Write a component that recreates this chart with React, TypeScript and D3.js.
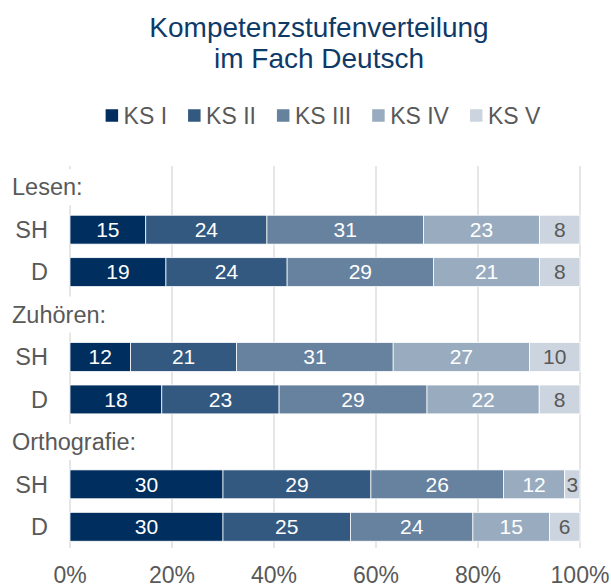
import React, { useMemo } from "react";
import * as d3 from "d3";

const titleLines = ["Kompetenzstufenverteilung", "im Fach Deutsch"];
const levels = ["KS I", "KS II", "KS III", "KS IV", "KS V"];
const colors = ["#002f5f", "#335980", "#66829f", "#99acbf", "#ccd5df"];
const groups = ["Lesen:", "Zuhören:", "Orthografie:"];
const regions = ["SH", "D"];
const lesenSH = [15, 24, 31, 23, 8];
const lesenD = [19, 24, 29, 21, 8];
const zuhoerenSH = [12, 21, 31, 27, 10];
const zuhoerenD = [18, 23, 29, 22, 8];
const orthoSH = [30, 29, 26, 12, 3];
const orthoD = [30, 25, 24, 15, 6];
const xTicks = [0, 0.2, 0.4, 0.6, 0.8, 1];

const groupValues = [
  [lesenSH, lesenD],
  [zuhoerenSH, zuhoerenD],
  [orthoSH, orthoD],
];

const FONT = "'Liberation Sans', Arial, sans-serif";
const GREY = "#595959";

type Row = { key: string; type: "group" | "bar"; label: string; values?: number[] };

export default function App() {
  const W = 611;
  const H = 586;

  const rows: Row[] = [];
  groups.forEach((g, gi) => {
    rows.push({ key: "g" + gi, type: "group", label: g });
    regions.forEach((r, ri) => {
      rows.push({ key: "r" + gi + ri, type: "bar", label: r, values: groupValues[gi][ri] });
    });
  });

  const x = d3.scaleLinear().domain([0, 1]).range([70, 580]);
  const y = d3
    .scaleBand<string>()
    .domain(rows.map((r) => r.key))
    .range([166, 548])
    .paddingInner(0.32)
    .paddingOuter(0.16);

  const measure = useMemo(() => {
    const c = document.createElement("canvas").getContext("2d")!;
    return (t: string, size: number) => {
      c.font = `${size}px ${FONT}`;
      return c.measureText(t).width;
    };
  }, []);

  // legend layout
  const legSize = 23;
  const sq = 12.5;
  const gapSq = 5.5;
  const gapItem = 21;
  const widths = levels.map((l) => measure(l, legSize));
  const total =
    widths.reduce((a, b) => a + b, 0) + levels.length * (sq + gapSq) + (levels.length - 1) * gapItem;
  let lx = 323 - total / 2;
  const legendItems = levels.map((l, i) => {
    const item = { l, i, x: lx };
    lx += sq + gapSq + widths[i] + gapItem;
    return item;
  });
  const legY = 115.5;

  return (
    <svg width={W} height={H} style={{ position: "absolute", left: 0, top: 0, background: "#fff" }}>
      <rect width={W} height={H} fill="#fff" />
      {titleLines.map((t, i) => (
        <text
          key={t}
          x={319}
          y={37 + i * 31}
          textAnchor="middle"
          fontFamily={FONT}
          fontSize={28}
          fill="#0f3a68"
        >
          {t}
        </text>
      ))}
      {legendItems.map((it) => (
        <g key={it.l}>
          <rect x={it.x} y={legY - sq / 2} width={sq} height={sq} fill={colors[it.i]} />
          <text
            x={it.x + sq + gapSq}
            y={legY}
            dy="0.35em"
            fontFamily={FONT}
            fontSize={legSize}
            fill={GREY}
          >
            {it.l}
          </text>
        </g>
      ))}
      {xTicks.map((t) => (
        <line
          key={t}
          x1={x(t)}
          x2={x(t)}
          y1={166}
          y2={548}
          stroke="#d9d9d9"
          strokeWidth={1.3}
        />
      ))}
      {rows.map((r) => {
        const by = y(r.key)!;
        const bh = y.bandwidth();
        const cy = by + bh / 2;
        if (r.type === "group") {
          const tw = measure(r.label, 23.5);
          return (
            <g key={r.key}>
              <rect x={10} y={cy - 18} width={tw + 4} height={36} fill="#fff" />
              <text x={12} y={cy} dy="0.35em" fontFamily={FONT} fontSize={23.5} fill={GREY}>
                {r.label}
              </text>
            </g>
          );
        }
        const vals = r.values!;
        const sum = d3.sum(vals);
        const cum = d3.cumsum(vals);
        return (
          <g key={r.key}>
            <text
              x={48}
              y={cy}
              dy="0.35em"
              textAnchor="end"
              fontFamily={FONT}
              fontSize={23.5}
              fill={GREY}
            >
              {r.label}
            </text>
            {vals.map((v, i) => {
              const x0 = x((cum[i] - v) / sum);
              const x1 = x(cum[i] / sum);
              return (
                <g key={i}>
                  <rect
                    x={x0}
                    y={by}
                    width={x1 - x0}
                    height={bh}
                    fill={colors[i]}
                    stroke="#fff"
                    strokeWidth={0.75}
                  />
                  <text
                    x={(x0 + x1) / 2}
                    y={cy}
                    dy="0.35em"
                    textAnchor="middle"
                    fontFamily={FONT}
                    fontSize={21}
                    fill={i === 4 ? GREY : "#fff"}
                  >
                    {v}
                  </text>
                </g>
              );
            })}
          </g>
        );
      })}
      {xTicks.map((t) => (
        <text
          key={"t" + t}
          x={x(t)}
          y={575}
          dy="0.35em"
          textAnchor="middle"
          fontFamily={FONT}
          fontSize={23}
          fill={GREY}
        >
          {d3.format(".0%")(t)}
        </text>
      ))}
    </svg>
  );
}
